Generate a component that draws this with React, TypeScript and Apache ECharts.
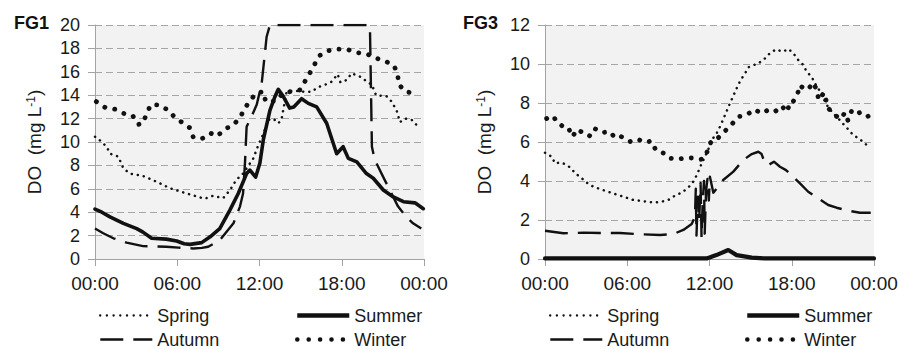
import React, { useEffect, useRef } from 'react';
import * as echarts from 'echarts';

const xTickLabels = ['00:00', '06:00', '12:00', '18:00', '00:00'];
const seasons = ['Spring', 'Summer', 'Autumn', 'Winter'];
const panelTitles = ['FG1', 'FG3'];
const yMax = [20, 12];

// FG1 series: [hour of day, DO mg/L]
const fg1Spring: number[][] = [
  [0, 10.45], [0.3, 10.2], [0.85, 9.6], [1.1, 9.0], [1.7, 8.75], [2.07, 7.75], [2.55, 7.3], [3.5, 7.1],
  [4.5, 6.6], [5.47, 6.05], [6.7, 5.6], [8.0, 5.15], [8.6, 5.4], [9.35, 5.2], [9.85, 5.9], [10.3, 6.75],
  [10.8, 7.3], [11.55, 8.6], [11.9, 9.7], [12.28, 10.7], [12.64, 11.9], [13.0, 12.0], [13.37, 11.6],
  [13.6, 11.9], [13.98, 14.3], [14.5, 14.4], [15.2, 14.3], [15.8, 14.3], [16.3, 14.7], [16.8, 14.9],
  [17.26, 15.15], [17.7, 15.8], [17.9, 15.1], [18.36, 15.3], [18.72, 15.87], [19.1, 15.7], [19.5, 15.5],
  [19.82, 15.15], [20.2, 14.9], [20.5, 14.0], [21.27, 13.9], [21.64, 13.45], [22.0, 12.7], [22.25, 11.7],
  [22.6, 12.0], [23.1, 11.9], [23.58, 11.3],
];
const fg1Summer: number[][] = [
  [0, 4.27], [0.5, 4.0], [1.09, 3.6], [2.07, 3.05], [3.04, 2.6], [3.5, 2.3], [4.13, 1.77], [5.2, 1.7],
  [5.96, 1.54], [6.5, 1.3], [6.93, 1.25], [7.78, 1.4], [8.4, 1.9], [9.1, 2.6], [9.85, 4.2], [10.45, 5.6],
  [11.06, 7.3], [11.3, 7.6], [11.72, 7.0], [12.03, 8.2], [12.28, 10.2], [12.76, 12.7], [13.1, 13.8],
  [13.37, 14.5], [13.73, 13.9], [14.2, 12.9], [14.5, 13.0], [15.07, 13.7], [15.56, 13.3], [16.17, 13.0],
  [16.9, 11.6], [17.63, 9.0], [18.1, 9.6], [18.48, 8.6], [19.1, 8.3], [19.8, 7.3], [20.3, 6.9],
  [21.03, 5.9], [21.76, 5.3], [22.5, 4.9], [23.34, 4.8], [23.95, 4.3],
];
const fg1Autumn: number[][] = [
  [0, 2.6], [0.6, 2.2], [1.34, 1.77], [2.3, 1.4], [3.5, 1.1], [5.2, 1.05], [6.08, 0.97], [7.17, 0.9],
  [7.8, 0.95], [8.26, 1.05], [9.1, 1.6], [10.1, 3.05], [10.58, 4.5], [10.8, 5.6], [10.94, 8.2],
  [11.06, 11.3], [11.43, 12.2], [11.8, 13.2], [12.16, 15.0], [12.52, 19.0], [12.76, 20], [20.0, 20],
  [20.06, 19.6], [20.2, 9.6], [20.4, 8.5], [21.03, 7.0], [21.5, 5.9], [22.1, 4.5], [22.7, 3.6],
  [23.2, 3.05], [23.8, 2.6],
];
const fg1Winter: number[][] = [
  [0.1, 13.45], [0.73, 12.96], [1.46, 12.8], [2.07, 12.45], [2.75, 12.25], [3.16, 11.5], [3.5, 11.6],
  [3.77, 12.45], [4.08, 13.2], [4.74, 13.15], [5.35, 12.7], [5.83, 12.1], [6.32, 11.7], [6.93, 11.2],
  [7.17, 10.4], [7.83, 10.3], [8.44, 10.75], [8.92, 10.5], [9.46, 11.1], [10.09, 11.45], [10.58, 12.1],
  [10.94, 12.9], [11.35, 13.6], [11.79, 14.2], [12.28, 14.3], [12.45, 13.45], [13.2, 13.5],
  [13.7, 14.15], [14.22, 14.3], [14.95, 14.45], [15.3, 15.15], [15.68, 15.9], [16.05, 16.7],
  [16.4, 17.4], [17.0, 17.8], [17.67, 17.95], [18.43, 17.9], [19.1, 17.65], [19.87, 17.5],
  [20.55, 17.15], [21.2, 16.9], [21.83, 16.5], [22.08, 15.7], [22.17, 14.9], [22.66, 14.3], [23.4, 14.15],
];

// FG3 series
const fg3Spring: number[][] = [
  [0, 5.45], [0.5, 5.24], [0.73, 4.9], [1.1, 4.95], [1.46, 4.87], [1.87, 4.68], [2.2, 4.4], [2.6, 4.19],
  [3.04, 3.92], [3.52, 3.71], [4.38, 3.5], [5.35, 3.28], [6.44, 3.03], [7.42, 2.94], [8.02, 2.89],
  [8.51, 2.94], [9.0, 3.03], [9.48, 3.25], [9.97, 3.4], [10.38, 3.62], [10.74, 3.88], [10.99, 4.19],
  [11.18, 4.48], [11.43, 4.9], [11.67, 5.25], [11.9, 5.6], [12.16, 6.1], [12.52, 6.44], [12.76, 6.78],
  [13.0, 7.16], [13.37, 7.78], [13.6, 8.15], [13.98, 8.75], [14.27, 9.18], [14.6, 9.52], [14.83, 9.83],
  [15.25, 9.95], [15.64, 10.07], [16.05, 10.29], [16.4, 10.55], [16.85, 10.75], [17.34, 10.63],
  [17.77, 10.77], [18.16, 10.51], [18.48, 10.2], [18.84, 9.95], [19.09, 9.6], [19.45, 9.35],
  [19.69, 9.01], [20.0, 8.67], [20.3, 8.24], [20.66, 7.78], [21.03, 7.47], [21.4, 7.21], [21.76, 6.92],
  [22.12, 6.65], [22.44, 6.39], [22.85, 6.19], [23.27, 5.98], [23.66, 5.71],
];
const fg3Summer: number[][] = [
  [0, 0.03], [11.8, 0.03], [12.5, 0.2], [13.37, 0.46], [13.98, 0.2], [15.08, 0.07], [16.0, 0.03], [24, 0.03],
];
const fg3Autumn: number[][] = [
  [0, 1.45], [1.34, 1.32], [2.8, 1.35], [4.0, 1.33], [5.47, 1.33], [6.93, 1.27], [8.39, 1.23],
  [9.36, 1.28], [10.09, 1.49], [10.7, 1.79], [10.94, 2.17], [11.0, 3.6], [11.05, 1.2], [11.15, 3.2],
  [11.25, 2.0], [11.35, 3.9], [11.42, 1.1], [11.5, 2.9], [11.6, 4.0], [11.65, 1.3], [11.75, 3.5],
  [11.85, 4.1], [11.95, 3.0], [12.03, 4.22], [12.28, 3.4], [13.0, 4.05], [13.74, 4.48], [14.47, 5.08],
  [15.08, 5.38], [15.56, 5.5], [15.8, 5.38], [16.05, 4.9], [16.3, 4.82], [16.7, 4.99], [17.14, 4.73],
  [17.58, 4.56], [18.1, 4.22], [18.6, 3.88], [19.2, 3.45], [19.94, 3.11], [20.66, 2.77], [21.27, 2.63],
  [22.12, 2.48], [22.98, 2.37], [23.76, 2.37],
];
const fg3Winter: number[][] = [
  [0.12, 7.2], [0.6, 7.33], [0.85, 7.04], [1.0, 7.0], [1.34, 6.75], [1.7, 6.73], [2.0, 6.27], [2.35, 6.65],
  [2.75, 6.48], [3.23, 6.3], [3.6, 6.7], [4.1, 6.48], [4.74, 6.53], [5.1, 6.22], [5.5, 6.3], [6.2, 6.02],
  [6.73, 6.15], [7.3, 5.98], [7.75, 6.05], [8.0, 5.7], [8.15, 5.54], [8.68, 5.42], [9.02, 5.18],
  [9.6, 5.11], [10.26, 5.18], [10.8, 5.18], [11.38, 5.11], [11.6, 5.15], [11.8, 5.45], [12.03, 5.93],
  [12.4, 6.19], [12.6, 6.19], [13.13, 6.56], [13.62, 6.9], [14.1, 7.3], [14.7, 7.38], [15.27, 7.67],
  [15.8, 7.47], [16.36, 7.67], [16.8, 7.57], [17.26, 7.85], [17.67, 7.54], [17.87, 8.07], [18.1, 8.07],
  [18.4, 8.41], [18.6, 8.92], [18.96, 8.67], [19.3, 8.8], [19.6, 9.04], [19.8, 8.67], [19.98, 8.15],
  [20.35, 8.53], [20.5, 8.15], [20.66, 7.73], [21.1, 7.42], [21.5, 7.18], [21.9, 7.5], [22.1, 7.1],
  [22.37, 7.6], [22.7, 7.42], [23.05, 7.54], [23.54, 7.35], [23.85, 7.0],
];

const panelData = [
  [fg1Spring, fg1Summer, fg1Autumn, fg1Winter],
  [fg3Spring, fg3Summer, fg3Autumn, fg3Winter],
];

const FONT = '"Liberation Sans", Arial, Helvetica, sans-serif';
const INK = '#111111';
const AXIS_GRAY = '#a3a3a3';

const lineStyles: Record<string, any> = {
  Spring: { width: 2.5, type: [0.1, 6], cap: 'round' },
  Summer: { width: 3.6, type: 'solid', cap: 'round' },
  Autumn: { width: 2.4, type: [23, 10], cap: 'butt' },
  Winter: { width: 4.8, type: [0.1, 10], cap: 'round' },
};
const legendLineStyles: Record<string, any> = {
  Spring: { width: 2.3, type: [0.1, 6.6], cap: 'round', color: INK },
  Summer: { width: 4.5, type: 'solid', cap: 'butt', color: INK },
  Autumn: { width: 2.6, type: [23, 10], cap: 'butt', color: INK },
  Winter: { width: 4.5, type: [0.1, 11.3], cap: 'round', color: INK },
};

const panelLeft = [95, 545];
const legendPos: Record<string, [number, number]> = {
  Spring: [99, 306.5],
  Summer: [295, 306.5],
  Autumn: [99, 330.5],
  Winter: [295, 330.5],
};

export default function App() {
  const ref = useRef<HTMLDivElement>(null);

  useEffect(() => {
    if (!ref.current) return;
    const chart = echarts.init(ref.current, undefined, { renderer: 'svg' });

    const grids = panelLeft.map((left) => ({
      left,
      top: 25,
      width: 329,
      height: 234,
      show: true,
      backgroundColor: '#f2f2f2',
      borderWidth: 0,
    }));

    const xAxes = panelLeft.map((_, i) => ({
      type: 'value',
      gridIndex: i,
      min: 0,
      max: 24,
      interval: 6,
      axisLine: { show: true, lineStyle: { color: AXIS_GRAY, width: 1 } },
      axisTick: { show: true, length: 7, lineStyle: { color: AXIS_GRAY } },
      splitLine: { show: false },
      axisLabel: {
        margin: 15,
        fontSize: 19,
        color: '#1a1a1a',
        fontFamily: FONT,
        formatter: (v: number) => xTickLabels[Math.round(v / 6)],
      },
    }));

    const yAxes = panelLeft.map((_, i) => ({
      type: 'value',
      gridIndex: i,
      min: 0,
      max: yMax[i],
      interval: 2,
      axisLine: { show: true, lineStyle: { color: AXIS_GRAY, width: 1 } },
      axisTick: { show: true, length: 7, lineStyle: { color: AXIS_GRAY } },
      splitLine: { show: true, lineStyle: { color: '#a6a6a6', type: [7, 4], width: 1 } },
      axisLabel: { margin: 15, fontSize: 18, color: '#1a1a1a', fontFamily: FONT },
      name: 'DO  (mg L{sup|-1})',
      nameLocation: 'middle',
      nameGap: 51,
      nameTextStyle: {
        fontSize: 19,
        color: '#1a1a1a',
        fontFamily: FONT,
        rich: { sup: { fontSize: 12, verticalAlign: 'top', color: '#1a1a1a', fontFamily: FONT } },
      },
    }));

    const series: any[] = [];
    panelData.forEach((sets, p) => {
      sets.forEach((data, s) => {
        const name = seasons[s];
        const ls = { ...lineStyles[name], color: INK, join: 'round' };
        if (p === 1 && name === 'Summer') ls.width = 4.2;
        series.push({
          type: 'line',
          name,
          xAxisIndex: p,
          yAxisIndex: p,
          data,
          symbol: 'none',
          showSymbol: false,
          lineStyle: ls,
          itemStyle: { color: INK },
          z: 3,
        });
      });
    });

    const legends: any[] = [];
    panelLeft.forEach((left) => {
      const off = left - 95;
      seasons.forEach((name) => {
        legends.push({
          data: [name],
          left: legendPos[name][0] + off,
          top: legendPos[name][1],
          padding: 0,
          itemWidth: 52,
          itemHeight: 12,
          selectedMode: false,
          itemStyle: { opacity: 0 },
          lineStyle: legendLineStyles[name],
          textStyle: { fontSize: 18, lineHeight: 16, color: '#1a1a1a', fontFamily: FONT },
        });
      });
    });

    chart.setOption({
      animation: false,
      textStyle: { fontFamily: FONT },
      title: panelTitles.map((t, i) => ({
        text: t,
        left: [14, 463][i],
        top: 14,
        padding: 0,
        textStyle: { fontSize: 18, fontWeight: 'bold', color: INK, fontFamily: FONT },
      })),
      grid: grids,
      xAxis: xAxes,
      yAxis: yAxes,
      legend: legends,
      series,
    });

    return () => chart.dispose();
  }, []);

  return (
    <div
      ref={ref}
      style={{ position: 'absolute', left: 0, top: 0, width: 909, height: 349, background: '#ffffff' }}
    />
  );
}
